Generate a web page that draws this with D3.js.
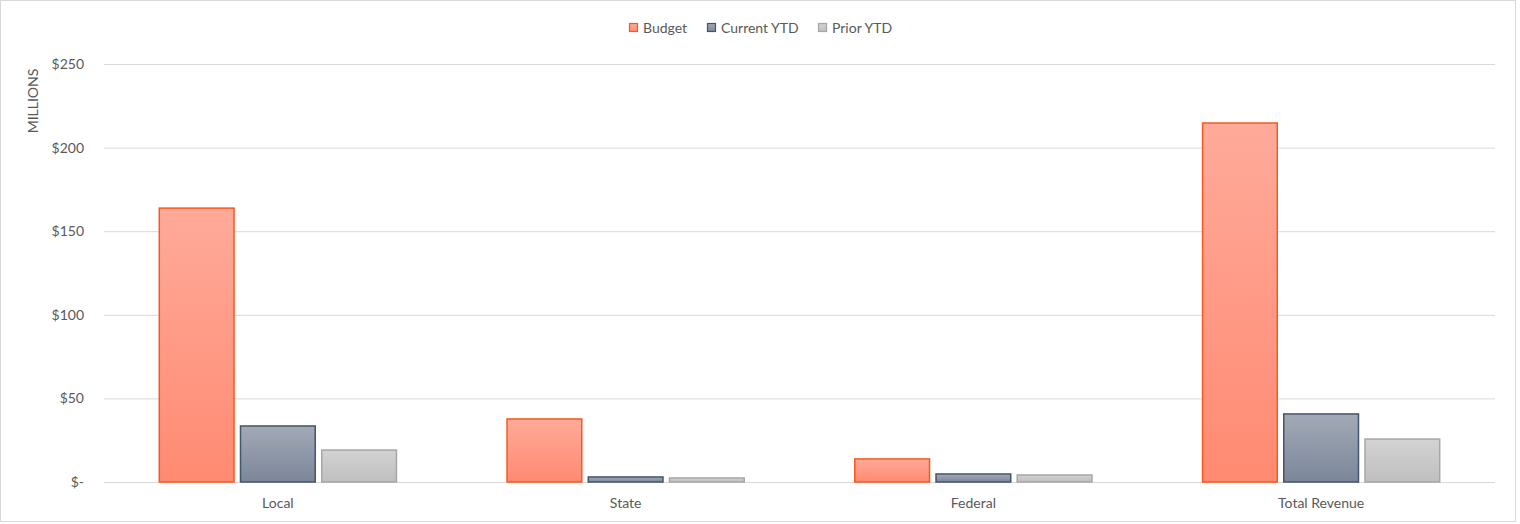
<!DOCTYPE html>
<html>
<head>
<meta charset="utf-8">
<script src="https://cdn.jsdelivr.net/npm/d3@7"></script>
<style>
  html, body { margin: 0; padding: 0; background: #fff; }
  svg { display: block; font-family: Lato, "Open Sans", sans-serif; }
</style>
</head>
<body>
<svg id="chart" width="1520" height="524"></svg>
<script>
// Revenue categories and series (millions of dollars)
const categories = ["Local", "State", "Federal", "Total Revenue"];
const seriesNames = ["Budget", "Current YTD", "Prior YTD"];
const budget = [163.8, 37.7, 13.8, 214.7];
const currentYTD = [33.5, 3.0, 4.8, 40.7];
const priorYTD = [19.1, 2.4, 4.2, 25.7];
const yTicks = [0, 50, 100, 150, 200, 250];
const yTickLabels = ["$-", "$50", "$100", "$150", "$200", "$250"];

const seriesValues = [budget, currentYTD, priorYTD];
const styles = [
  { top: "#ffaa9a", bottom: "#ff8a72", stroke: "#f8591a" },
  { top: "#a3aab6", bottom: "#7b8699", stroke: "#44546a" },
  { top: "#d3d3d3", bottom: "#bfbfbf", stroke: "#a6a6a6" }
];

const svg = d3.select("#chart");
const W = 1520, H = 524;
const margin = { left: 104, right: 25, top: 64, bottom: 42 };
const FS = 14;

// outer chart frame
svg.append("rect")
  .attr("x", 0.5).attr("y", 0.5)
  .attr("width", 1515).attr("height", 521)
  .attr("fill", "#fff").attr("stroke", "#d9d9d9");

const x = d3.scaleBand()
  .domain(categories)
  .range([margin.left, W - margin.right])
  .paddingInner(0.318).paddingOuter(0.159);

const y = d3.scaleLinear().domain([0, 250]).range([H - margin.bottom, margin.top]);

const xs = d3.scaleBand().domain(d3.range(seriesNames.length))
  .range([0, x.bandwidth()]).paddingInner(0.08);

// gradients for bar fills
const defs = svg.append("defs");
styles.forEach((s, i) => {
  const g = defs.append("linearGradient").attr("id", "grad" + i)
    .attr("x1", 0).attr("y1", 0).attr("x2", 0).attr("y2", 1);
  g.append("stop").attr("offset", "0%").attr("stop-color", s.top);
  g.append("stop").attr("offset", "100%").attr("stop-color", s.bottom);
});

// gridlines and value labels
const yAxis = d3.axisLeft(y).tickValues(yTicks)
  .tickFormat((d, i) => yTickLabels[i])
  .tickSize(-(W - margin.left - margin.right)).tickPadding(20);
const gy = svg.append("g").attr("transform", `translate(${margin.left},0)`).call(yAxis);
gy.select(".domain").remove();
gy.selectAll(".tick line").attr("stroke", "#d9d9d9").attr("stroke-width", 1);
gy.selectAll(".tick text").attr("fill", "#595959").attr("font-size", FS)
  .attr("font-family", "Lato, sans-serif");

// bars
categories.forEach((c, ci) => {
  seriesValues.forEach((vals, si) => {
    const v = vals[ci];
    svg.append("rect")
      .attr("x", x(c) + xs(si))
      .attr("y", y(v))
      .attr("width", xs.bandwidth())
      .attr("height", y(0) - y(v))
      .attr("fill", `url(#grad${si})`)
      .attr("stroke", styles[si].stroke)
      .attr("stroke-width", 1.5);
  });
});

// category axis
const xAxis = d3.axisBottom(x).tickSize(0).tickPadding(16);
const gx = svg.append("g").attr("transform", `translate(0,${y(0)})`).call(xAxis);
gx.select(".domain").remove();
gx.selectAll(".tick text").attr("fill", "#595959").attr("font-size", FS)
  .attr("font-family", "Lato, sans-serif");

// axis title
svg.append("text")
  .attr("transform", `translate(38,101) rotate(-90)`)
  .attr("text-anchor", "middle")
  .attr("fill", "#595959").attr("font-size", FS)
  .text("MILLIONS");

// legend
const legend = svg.append("g").attr("transform", "translate(629,28)");
const legendX = [0, 78, 189];
seriesNames.forEach((n, i) => {
  const g = legend.append("g").attr("transform", `translate(${legendX[i]},0)`);
  g.append("rect").attr("x", 0.5).attr("y", -4.5).attr("width", 8).attr("height", 8)
    .attr("fill", `url(#grad${i})`).attr("stroke", styles[i].stroke).attr("stroke-width", 1.2);
  g.append("text").attr("x", 14).attr("y", 0).attr("dy", "0.35em")
    .attr("fill", "#595959").attr("font-size", FS).text(n);
});
</script>
</body>
</html>
